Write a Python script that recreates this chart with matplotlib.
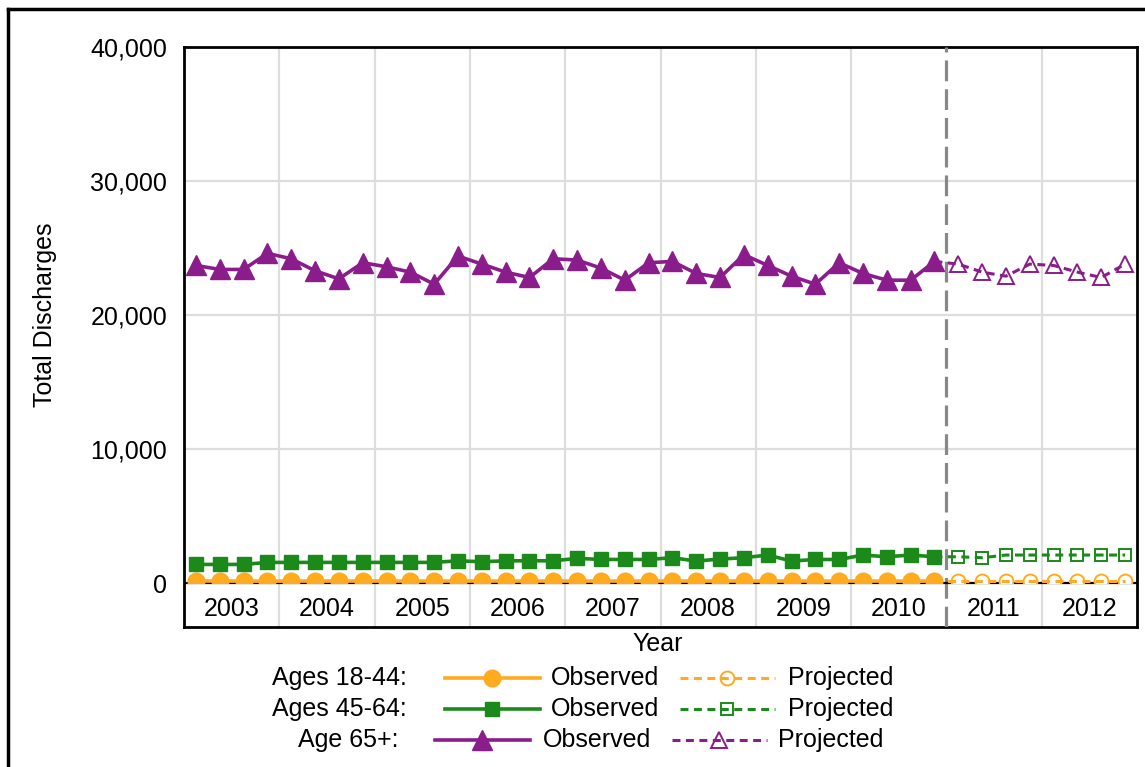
#!/usr/bin/env python3
import matplotlib
matplotlib.use("Agg")
import matplotlib.pyplot as plt
from matplotlib.lines import Line2D
from matplotlib.patches import Rectangle
import numpy as np

plt.rcParams['font.family'] = ['Liberation Sans', 'DejaVu Sans']

years = ["2003", "2004", "2005", "2006", "2007", "2008", "2009", "2010", "2011", "2012"]

# quarterly totals, observed 2003-2010, projected 2011-2012
age18_obs = [160, 150, 150, 140, 150, 150, 150, 150, 150, 150, 150, 150, 150, 150, 150, 150,
             150, 150, 150, 150, 150, 150, 150, 150, 150, 150, 150, 150, 150, 150, 140, 150]
age18_proj = [150, 150, 150, 150, 150, 150, 150, 150]

age45_obs = [1390, 1390, 1390, 1540, 1540, 1540, 1540, 1540, 1540, 1540, 1540, 1660, 1590, 1660, 1660, 1660,
             1840, 1760, 1760, 1760, 1890, 1640, 1790, 1890, 2090, 1640, 1760, 1760, 2090, 1960, 2090, 1960]
age45_proj = [1960, 1890, 2090, 2090, 2090, 2090, 2090, 2090]

age65_obs = [23700, 23400, 23400, 24600, 24200, 23300, 22700, 23900, 23600, 23200, 22300, 24400, 23800, 23200, 22800, 24200,
             24100, 23500, 22600, 23900, 24000, 23100, 22800, 24500, 23700, 22900, 22300, 23900, 23100, 22600, 22600, 24000]
age65_proj = [23800, 23200, 22900, 23800, 23700, 23200, 22800, 23800]

ORANGE = "#ffab1f"
GREEN = "#1b8a1b"
PURPLE = "#8b1c8b"
FS = 18

W, H = 1145, 767

def fx(px):
    return px / W

def fy(py):
    return 1 - py / H


def main():
    fig = plt.figure(figsize=(W / 100, H / 100), dpi=100)
    ax = fig.add_axes([fx(184), fy(627), fx(1137) - fx(184), fy(47) - fy(627)])

    nobs = len(age65_obs)
    nall = nobs + len(age65_proj)
    x_obs = np.arange(nobs) + 0.5
    x_proj = np.arange(nobs, nall) + 0.5
    x_link = np.arange(nobs - 1, nall) + 0.5

    ax.set_xlim(0, nall)
    ax.set_ylim(-3280, 40000)

    clip = Rectangle((0, 0), nall, 40000, transform=ax.transData)

    series = [
        (age18_obs, age18_proj, ORANGE, 'o', 12, 10),
        (age45_obs, age45_proj, GREEN, 's', 10.5, 9),
        (age65_obs, age65_proj, PURPLE, '^', 14, 12),
    ]
    for obs, proj, col, mk, ms_obs, ms_proj in series:
        l1, = ax.plot(x_obs, obs, color=col, lw=2.6, marker=mk, ms=ms_obs, mec=col, mfc=col, zorder=5)
        l2, = ax.plot(x_proj, proj, ls='none', marker=mk, ms=ms_proj, mec=col, mfc='white', mew=1.4, zorder=5)
        l3, = ax.plot(x_link, [obs[-1]] + list(proj), color=col, lw=2.2, ls=(0, (2.6, 1.8)), zorder=6)
        for ln in (l1, l2, l3):
            ln.set_clip_path(clip)

    # grid
    for v in [10000, 20000, 30000]:
        ax.axhline(v, color="#dddddd", lw=1.6, zorder=1)
    for k in range(1, len(years)):
        if 4 * k != nobs:
            ax.axvline(4 * k, color="#dddddd", lw=1.6, zorder=1)
    ax.axvline(nobs, color="#888888", lw=2.3, ls=(0, (6.5, 2.5)), zorder=3)
    ax.axhline(0, color="black", lw=1.6, zorder=4)

    for k, yr in enumerate(years):
        ax.text(4 * k + 2, -1900, yr, ha='center', va='center', fontsize=FS)

    ax.set_yticks([0, 10000, 20000, 30000, 40000])
    ax.set_yticklabels(["0", "10,000", "20,000", "30,000", "40,000"], fontsize=FS)
    ax.set_xticks([])
    ax.tick_params(axis='y', length=0, pad=12)
    for s in ax.spines.values():
        s.set_linewidth(2)
        s.set_color("black")

    fig.text(fx(658), fy(644), "Year", ha='center', va='center', fontsize=FS)
    fig.text(fx(45), fy(315), "Total Discharges", ha='center', va='center', rotation=90, fontsize=FS)

    # legend table
    rows = [
        ("Ages 18-44:", ORANGE, 'o', 12, 10, 678, 407, 445, 551, 680, 788),
        ("Ages 45-64:", GREEN, 's', 10.5, 9, 709, 407, 445, 551, 680, 788),
        ("Age 65+:", PURPLE, '^', 14, 12, 740, 399, 435, 543, 672, 778),
    ]
    for lab, col, mk, ms_o, ms_p, py, lx, ox, otx, px, ptx in rows:
        yy = fy(py)
        fig.text(fx(lx), yy, lab, ha='right', va='center', fontsize=FS)
        fig.add_artist(Line2D([fx(ox), fx(ox + 47), fx(ox + 95)], [yy] * 3, color=col, lw=2.6,
                              marker=mk, ms=ms_o, mfc=col, mec=col, markevery=[1], transform=fig.transFigure))
        fig.text(fx(otx), yy, "Observed", ha='left', va='center', fontsize=FS)
        fig.add_artist(Line2D([fx(px + 47)], [yy], ls='none', marker=mk, ms=ms_p, mfc='white', mec=col,
                              mew=1.4, transform=fig.transFigure))
        fig.add_artist(Line2D([fx(px), fx(px + 95)], [yy] * 2, color=col, lw=2.2,
                              ls=(0, (2.6, 1.8)), transform=fig.transFigure))
        fig.text(fx(ptx), yy, "Projected", ha='left', va='center', fontsize=FS)

    # outer frame (top and left visible)
    fig.add_artist(Line2D([fx(8), 1.0], [fy(9), fy(9)], color='black', lw=2.5, transform=fig.transFigure))
    fig.add_artist(Line2D([fx(8), fx(8)], [0.0, fy(9)], color='black', lw=2.5, transform=fig.transFigure))

    fig.savefig("out.png", dpi=100)


if __name__ == '__main__':
    main()
